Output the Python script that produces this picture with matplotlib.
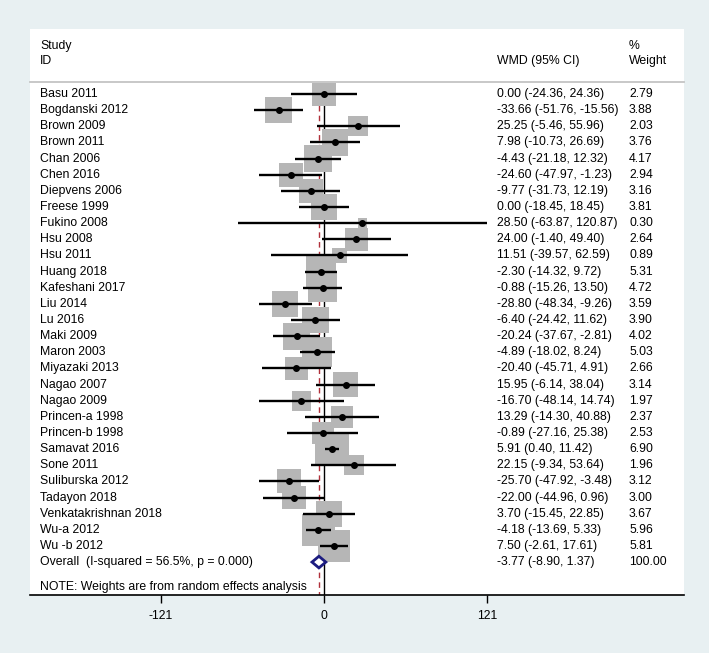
import matplotlib.pyplot as plt
from matplotlib.patches import Polygon
import numpy as np

plt.rcParams['font.family'] = ['Liberation Sans', 'DejaVu Sans']

studies = ["Basu 2011", "Bogdanski 2012", "Brown 2009", "Brown 2011", "Chan 2006",
           "Chen 2016", "Diepvens 2006", "Freese 1999", "Fukino 2008", "Hsu 2008",
           "Hsu 2011", "Huang 2018", "Kafeshani 2017", "Liu 2014", "Lu 2016",
           "Maki 2009", "Maron 2003", "Miyazaki 2013", "Nagao 2007", "Nagao 2009",
           "Princen-a 1998", "Princen-b 1998", "Samavat 2016", "Sone 2011",
           "Suliburska 2012", "Tadayon 2018", "Venkatakrishnan 2018", "Wu-a 2012",
           "Wu -b 2012"]
wmd = [0.00, -33.66, 25.25, 7.98, -4.43, -24.60, -9.77, 0.00, 28.50, 24.00,
       11.51, -2.30, -0.88, -28.80, -6.40, -20.24, -4.89, -20.40, 15.95, -16.70,
       13.29, -0.89, 5.91, 22.15, -25.70, -22.00, 3.70, -4.18, 7.50]
ci_lo = [-24.36, -51.76, -5.46, -10.73, -21.18, -47.97, -31.73, -18.45, -63.87, -1.40,
         -39.57, -14.32, -15.26, -48.34, -24.42, -37.67, -18.02, -45.71, -6.14, -48.14,
         -14.30, -27.16, 0.40, -9.34, -47.92, -44.96, -15.45, -13.69, -2.61]
ci_hi = [24.36, -15.56, 55.96, 26.69, 12.32, -1.23, 12.19, 18.45, 120.87, 49.40,
         62.59, 9.72, 13.50, -9.26, 11.62, -2.81, 8.24, 4.91, 38.04, 14.74,
         40.88, 25.38, 11.42, 53.64, -3.48, 0.96, 22.85, 5.33, 17.61]
weight = [2.79, 3.88, 2.03, 3.76, 4.17, 2.94, 3.16, 3.81, 0.30, 2.64,
          0.89, 5.31, 4.72, 3.59, 3.90, 4.02, 5.03, 2.66, 3.14, 1.97,
          2.37, 2.53, 6.90, 1.96, 3.12, 3.00, 3.67, 5.96, 5.81]
overall = (-3.77, -8.90, 1.37)
overall_label = "Overall  (I-squared = 56.5%, p = 0.000)"
xticks = [-121, 0, 121]

W, H = 709, 653
bg = '#e8f0f2'
fs = 8.8

fig = plt.figure(figsize=(W / 100, H / 100), dpi=100, facecolor=bg)
ax = fig.add_axes([30 / W, (H - 595) / H, 654 / W, (595 - 29) / H])
ax.set_facecolor('white')

px_unit = 163.3 / 121  # pixels per WMD unit
ax.set_xlim((30 - 324) / px_unit, (684 - 324) / px_unit)
ax.set_ylim(31.04, -4.03)

n = len(studies)
rows = np.arange(n)
ov_row = n

# linie odniesienia: zero i efekt łączny
ax.plot([0, 0], [-0.5, 31.04], color='black', lw=1, zorder=1)
ax.plot([overall[0]] * 2, [-0.5, 31.04], color='#b0303a', lw=1,
        ls=(0, (4, 3)), zorder=1)

# kwadraty wag (bok rośnie z pierwiastkiem wagi)
side_px = 3 + 12 * np.sqrt(np.array(weight))
ax.scatter(wmd, rows, s=(side_px * 0.72) ** 2, marker='s', color='#b6b6b6',
           edgecolors='none', zorder=2)

# przedziały ufności i estymaty punktowe
ax.hlines(rows, ci_lo, ci_hi, color='black', lw=1.7, zorder=3)
ax.plot(wmd, rows, 'o', color='black', ms=4, zorder=4)

# romb dla wyniku łącznego
est, lo, hi = overall
diamond = Polygon([[lo, ov_row], [est, ov_row - 0.36], [hi, ov_row], [est, ov_row + 0.36]],
                  closed=True, facecolor='white', edgecolor='#1c1c80', lw=2, zorder=5)
ax.add_patch(diamond)

# kolumny tekstowe
tr = ax.get_yaxis_transform()
x_name, x_wmd, x_wt = 10 / 654, 467 / 654, 599 / 654
ax.text(x_name, -2.97, "Study", transform=tr, fontsize=fs, va='center')
ax.text(x_name, -2.04, "ID", transform=tr, fontsize=fs, va='center')
ax.text(x_wmd, -2.04, "WMD (95% CI)", transform=tr, fontsize=fs, va='center')
ax.text(x_wt, -2.97, "%", transform=tr, fontsize=fs, va='center')
ax.text(x_wt, -2.04, "Weight", transform=tr, fontsize=fs, va='center')
ax.plot([0, 1], [-0.74, -0.74], transform=tr, color='#c4c4c4', lw=1.3, clip_on=False)

for i in range(n):
    ax.text(x_name, i, studies[i], transform=tr, fontsize=fs, va='center')
    ax.text(x_wmd, i, f"{wmd[i]:.2f} ({ci_lo[i]:.2f}, {ci_hi[i]:.2f})",
            transform=tr, fontsize=fs, va='center')
    ax.text(x_wt, i, f"{weight[i]:.2f}", transform=tr, fontsize=fs, va='center')

ax.text(x_name, ov_row, overall_label, transform=tr, fontsize=fs, va='center')
ax.text(x_wmd, ov_row, f"{est:.2f} ({lo:.2f}, {hi:.2f})", transform=tr, fontsize=fs, va='center')
ax.text(x_wt, ov_row, "100.00", transform=tr, fontsize=fs, va='center')
ax.text(x_name, 30.55, "NOTE: Weights are from random effects analysis",
        transform=tr, fontsize=fs, va='center')

# oś X
for side in ['left', 'right', 'top']:
    ax.spines[side].set_visible(False)
ax.spines['bottom'].set_linewidth(1.2)
ax.set_yticks([])
ax.set_xticks(xticks)
ax.set_xticklabels([str(t) for t in xticks])
ax.tick_params(axis='x', length=6, width=1, pad=5, labelsize=fs)

plt.savefig("out.png", dpi=100, facecolor=bg)
